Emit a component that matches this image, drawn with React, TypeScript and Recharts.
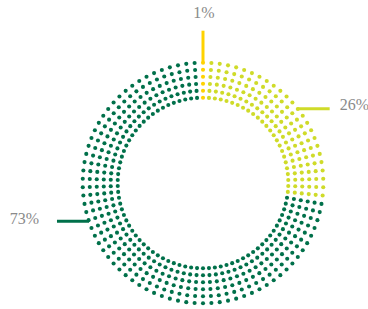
import { PieChart, Pie } from 'recharts'

// share of each segment, clockwise from 12 o'clock
const segmentNames = ['Small', 'Medium', 'Large']
const segmentShares = [1, 26, 73]
const segmentColors = ['#FFD200', '#CFDB29', '#00704A']

const data = segmentNames.map((name, i) => ({ name, value: segmentShares[i] }))

const RINGS = 6
const DOTS_PER_RING = 90
const DOT_R = 2.05
const LEADER = 32
const TEXT_COLOR = '#8a8a8a'
const FONT = "'Liberation Serif', 'Times New Roman', serif"
// labels are not sitting exactly on the slice middle in the original
const LABEL_SHIFT = [1.8, -1.5, -22.8]

const RAD = Math.PI / 180

const renderSlice = (props: any) => {
  const { cx, cy, startAngle, endAngle, innerRadius, outerRadius, index, value } = props
  const color = segmentColors[index]
  const hi = Math.max(startAngle, endAngle)
  const lo = Math.min(startAngle, endAngle)
  const gap = (outerRadius - innerRadius) / (RINGS - 1)
  const step = 360 / DOTS_PER_RING

  const dots = []
  for (let ring = 0; ring < RINGS; ring++) {
    const r = innerRadius + ring * gap
    for (let k = 0; k < DOTS_PER_RING; k++) {
      const a = 90 - k * step
      if (a <= hi + 1e-6 && a > lo + 1e-6) {
        dots.push(
          <circle
            key={`${ring}-${k}`}
            cx={cx + r * Math.cos(a * RAD)}
            cy={cy - r * Math.sin(a * RAD)}
            r={DOT_R}
            fill={color}
          />
        )
      }
    }
  }

  // leader line + text
  const mid = (startAngle + endAngle) / 2 + LABEL_SHIFT[index]
  const ax = cx + outerRadius * Math.cos(mid * RAD)
  const ay = cy - outerRadius * Math.sin(mid * RAD)
  const cos = Math.cos(mid * RAD)
  let line
  let text
  if (Math.abs(cos) < 0.2) {
    line = <line x1={ax} y1={ay - 1} x2={ax} y2={ay - LEADER} stroke={color} strokeWidth={3} />
    text = (
      <text x={ax + 1} y={ay - LEADER - 13} textAnchor="middle" fill={TEXT_COLOR} fontSize={16} fontFamily={FONT}>
        {value}%
      </text>
    )
  } else if (cos > 0) {
    line = <line x1={ax} y1={ay} x2={ax + LEADER} y2={ay} stroke={color} strokeWidth={3} />
    text = (
      <text x={ax + LEADER + 10} y={ay + 1.5} textAnchor="start" fill={TEXT_COLOR} fontSize={16} fontFamily={FONT}>
        {value}%
      </text>
    )
  } else {
    line = <line x1={ax} y1={ay} x2={ax - LEADER} y2={ay} stroke={color} strokeWidth={3} />
    text = (
      <text x={ax - LEADER - 18} y={ay + 2.5} textAnchor="end" fill={TEXT_COLOR} fontSize={16} fontFamily={FONT}>
        {value}%
      </text>
    )
  }

  return (
    <g key={`slice-${index}`}>
      {dots}
      {line}
      {text}
    </g>
  )
}

export default function App() {
  return (
    <div style={{ position: 'absolute', left: 0, top: 0, width: 368, height: 309, background: '#fff' }}>
      <PieChart width={368} height={309} margin={{ top: 0, right: 0, bottom: 0, left: 0 }}>
        <Pie
          data={data}
          dataKey="value"
          nameKey="name"
          cx={203}
          cy={183}
          innerRadius={85.3}
          outerRadius={120.3}
          startAngle={90}
          endAngle={-270}
          fill="none"
          stroke="none"
          label={renderSlice}
          labelLine={false}
          isAnimationActive={false}
        />
      </PieChart>
    </div>
  )
}
